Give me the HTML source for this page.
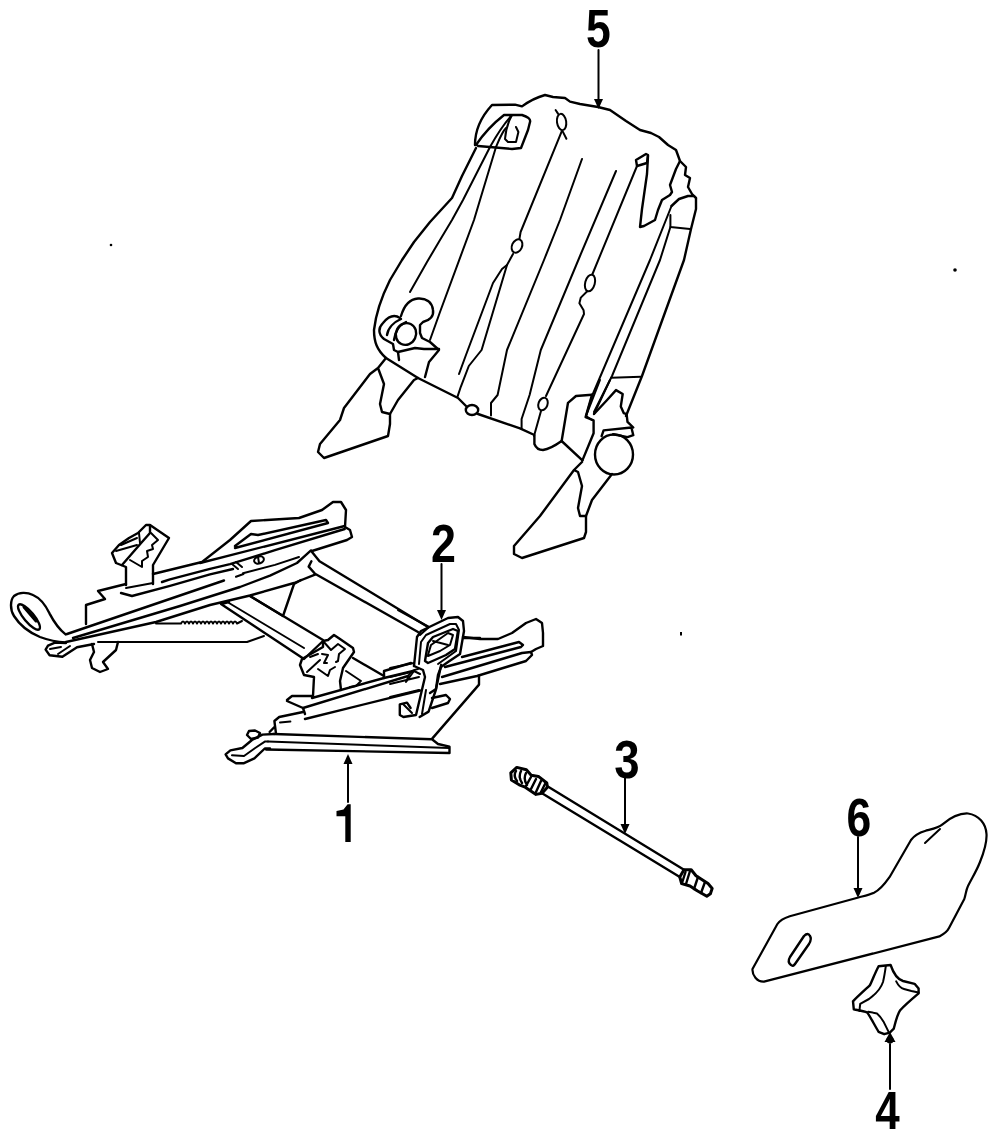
<!DOCTYPE html>
<html><head><meta charset="utf-8">
<style>
html,body{margin:0;padding:0;background:#fff;width:1000px;height:1148px;overflow:hidden}
svg{display:block}
.l{fill:none;stroke:#000;stroke-width:2.4;stroke-linejoin:round;stroke-linecap:round}
.t{fill:none;stroke:#000;stroke-width:2;stroke-linejoin:round;stroke-linecap:round}
.n{font-family:"Liberation Sans",sans-serif;font-weight:bold;fill:#000;will-change:transform}
</style></head><body>
<svg width="1000" height="1148" viewBox="0 0 1000 1148">
<!-- ===== PART 5 : SEAT BACK ===== -->
<g id="back">
<!-- outer outline -->
<path class="l" d="M475,145 C475,131 480,118 492,105 L515,104.6 L522,106.4 C528,102 534,98 545,95 L553,97 L565,98 L570,101.6 L580,104 L598,107 L610,110 L626,121 L640,130 L651,133 L659,137 L668,145 L676,150 L680,161 L686,167 L685,175 L690,178 L688,187 L692,194 L696,198 L696,209 L691,229 L684,260 L642,376 L626,416"/>
<path class="l" d="M476,148 L462,176 L452,198 L430,222 L414,242 L402,260 L390,280 C383,294 376,312 374,330 C374,342 377,350 386,358 L418,378 L458,398 L466,406"/>
<ellipse class="l" cx="472" cy="410" rx="6.2" ry="5"/>
<path class="l" d="M478,414 L520,428.4 L534.4,435 L534.4,444 C536,448 539,450 543,450 C550,449 556,445 561.6,441 L582.4,460.4"/>
<!-- headrest loop -->
<path class="l" d="M476,145 C482,136 490,126 504,115 L522,115 C528,117 531,119 530,122 L528,130 L521,148 L512,149 L478,146"/>
<path class="t" d="M512,115 C508,122 506,128 505,139 L508,142 L516,142 L518.4,132 L516,127"/>
<path class="t" d="M490,147 C495,138 502,126 512,115 M496,147 C499,140 502,132 506,128"/>
<!-- strip lines -->
<path class="t" d="M490,147 L463,200 L452,220 L440,240 L427,262 L410,292"/>
<path class="t" d="M496,147 L480,200 L474,220 L440,312 L430,340"/>
<path class="t" d="M561.6,131.6 L520.6,232 L519.5,238.5"/>
<ellipse class="t" cx="517" cy="246" rx="5" ry="7" transform="rotate(25 517 246)"/>
<path class="t" d="M513,254 L507,265 L481.6,350 L468.8,366 L460.8,386.8 L457.6,396.4"/>
<path class="t" d="M507,265 L502,269 L493,283 L465.6,356 L459,374"/>
<path class="t" d="M582,159 L560,220 L544,260 L507,350 L497.6,395 L491,403 L491,415.6"/>
<path class="t" d="M616,171 L580,256 L540.8,350 L529.6,395 L521.6,419 L521.6,428.4"/>
<path class="t" d="M637,166 L592.5,274"/>
<ellipse class="t" cx="590" cy="283" rx="4.8" ry="8.5" transform="rotate(15 590 283)"/>
<path class="t" d="M587,291.5 L580.8,297.6 L579.4,303.2 L583.6,310.3 L584,314 L546,396"/>
<ellipse class="t" cx="543" cy="404" rx="4.5" ry="6.5" transform="rotate(20 543 404)"/>
<path class="t" d="M541,411 L534,436"/>
<!-- top oval -->
<ellipse class="t" cx="561.6" cy="122" rx="4.6" ry="8.2" transform="rotate(-8 561.6 122)"/>
<path class="t" d="M555.6,110 L558,113.6 M562.8,131.6 L566.4,138.8"/>

<!-- right notch -->
<path class="l" d="M636,160 L646,154 L648,155 L647,163 L637,166 Z"/>
<path class="l" d="M648,156 L647,174 L645,188 L642,209 L640,227 L644,226 L655,220 L658,210 L662,200 L670,195 L672,192 L670,185 L676,169 L680,161"/>
<!-- right side piece -->
<path class="l" d="M671.5,206 L679,199 L688,196 L694,196 L696,198"/>
<path class="t" d="M670.4,215 L670.4,227 L690,229"/>
<path class="t" d="M671.5,206 L650,260 L592,396 L586,416 L592,420"/>
<path class="t" d="M670.4,227 L660,260 L612,376 L594,412"/>
<path class="t" d="M611.2,377.7 L641,376.7"/>
<!-- cylinder blob left -->
<path class="l" d="M401,316 C404,306 410,299 418,298.5 C426,298 432,302 433,310 C434,316 430,320 423,322 L420,325 L420,333 L422,338 L430,342 L439,350 L429,362 L425,377"/>
<path class="l" d="M400,318 C394,314 388,317 383,323 C378,328 378,334 384,339 L393,344 L394,350 L398,352 L415,348 L424,349 L439,349"/>
<path class="l" d="M387,335 C388,328 394,322 401,319"/>
<path class="l" d="M394,340 C395,332 399,325 406,322"/>
<ellipse class="l" cx="406" cy="334" rx="10" ry="11" transform="rotate(25 406 334)"/>
<path class="l" d="M398,352 L399,360"/>
<!-- left leg -->
<path class="l" d="M386,358 L378,368 L370,374 L344,408 L340,420 L320,444 L318,452 L324,458 L388,436 L390,424 L390,414 L382,412 L380,404 L384,384 L378,368"/>
<path class="l" d="M390,414 L398,400 L414,380 L418,378"/>
<!-- lower centre bits -->
<path class="l" d="M592,394.8 L576,396 L568,402.8 L561.6,441.2"/>
<path class="l" d="M592,394.8 L585.6,417.2 L593.6,420.4 L593.6,433.2 L582.4,460.4"/>
<path class="t" d="M600,380 L586,416 M610,380 L594,414"/>
<path class="l" d="M594,414 L606.4,400.7 L616,390.1 L622.7,394 L620.8,406.4 L623.7,413.1 L626.6,414.1 L627.5,421.8 L633.3,427.5"/>
<path class="l" d="M601.6,436.2 L603.6,430.4 L631.4,427.5 L633.3,435.2 L627.5,437.1 L613.1,434.2"/>
<ellipse class="l" cx="614" cy="454.5" rx="19" ry="20"/>
<!-- right leg -->
<path class="l" d="M582,462 L574,470 L540,516 L514,546 L514,554 L522,558 L584,538 L586,532 L586,516 L580,516 L578,508 L582,486 L578,472 L574,470"/>
<path class="l" d="M586,516 L592,500 L612,474"/>
</g>

<!-- labels -->
<g>
<text class="n" x="598.5" y="47" font-size="53" text-anchor="middle" transform="translate(598.5 0) scale(0.84 1) translate(-598.5 0)">5</text>
<path class="t" d="M598.5,50 L598.5,102"/>
<path d="M594,99 L603,99 L598.5,109 Z" fill="#000"/>
</g>

<!-- ===== REAR TRACK ===== -->
<g id="reartrack">
<!-- loop -->
<path class="l" d="M65.6,634.4 C60,630 54,622 49.6,613.6 C46,606 40,598 33,595 C27,592 19,592 14,596 C10,600 10,610 14,616 C19,624 28,632 40,637 C48,640 56,642 65.6,642.4"/>
<ellipse class="l" cx="29" cy="617" rx="16" ry="5" transform="rotate(50 29 617)"/><path class="l" d="M24,607 L36,621" style="stroke-width:3"/>
<!-- rail long lines -->
<path class="l" d="M67,634 L224,580.5"/>
<path class="l" d="M73,638 L180,606 L240,587 L270,575.6 L297,563 L311,550.4"/>
<path class="l" d="M66,642 L156,622 L210,605 L250,595.5 L294,583 L315,574.7"/>
<!-- lower foot loop -->
<path class="l" d="M66,643 L55,642.6 L48,645.6 L45.6,649.6 L49.6,655.2 L62.4,656.8 L77,647.2 L94,644"/>
<path class="t" d="M50,649 L61,647 M58,654 L70,646"/>
<path class="l" d="M92,644 L94,652 L90,660 L92,668 L100,672 L108,669 L103,662 L116,650 L118,642"/>
<!-- bottom dotted and serrated -->
<path class="t" d="M98,642 L247,642 L264,636"/>
<path class="t" d="M156,623.5 L181,623.5 Q183.0,619.5 185.0,623.5 Q187.0,619.5 189.0,623.5 Q191.0,619.5 193.0,623.5 Q195.0,619.5 197.0,623.5 Q199.0,619.5 201.0,623.5 Q203.0,619.5 205.0,623.5 Q207.0,619.5 209.0,623.5 Q211.0,619.5 213.0,623.5 Q215.0,619.5 217.0,623.5 Q219.0,619.5 221.0,623.5 Q223.0,619.5 225.0,623.5 Q227.0,619.5 229.0,623.5 Q231.0,619.5 233.0,623.5 Q235.0,619.5 237.0,623.5 L242,621"/>
<!-- upper rail plate -->
<path class="l" d="M86,624 L86,605 L105,599 L98,591 L126,584"/>
<path class="t" d="M126,588 L153,583"/>
<path class="l" d="M153,574 L202,562 L230,540 L251,521 L267,520 L299,518 L322,510 L333,502 L341,502 L346,510 L345,527 L350,530 L352,537 L347,540 L312,551"/>
<path class="l" d="M235,546 L251,534 L258,535 L326,520 L328,523 L235,548"/>
<path class="l" d="M200,563 L344.7,526"/>
<path class="l" d="M162,582 L170,579.3 L210,568.8 L230,564.2 L275,550.2 L344.7,529"/>
<path class="l" d="M121,593 L132,596 L170,585.9 L210,574.4 L233,569"/>
<path class="t" d="M236,576.8 L243.5,574 M243,573.3 L275,564.9 L299,557"/>

<path class="t" d="M232,564 L238,569 M236,562 L242,567"/>
<ellipse class="t" cx="259" cy="560" rx="5" ry="3.5" transform="rotate(-20 259 560)"/><path class="t" d="M258,557 L259,563"/>
<!-- bracket -->
<path class="l" d="M126,585 L126,567 L116,563 L112,553 L119,545 L129,538 L138,533 L146,525 L150,525 L169,538 L153,565 L153,584"/>
<path class="l" d="M150,526 L150,533 L142,542 L122,565"/>
<path class="t" d="M151,533 L158,540 L152,545 L153,549 L147,551 L148,557 L142,561 L142,567 L130,560"/>
<path class="t" d="M139,533 L140,543 M121,545 L137,538 M116,551 L137,545"/>
<!-- triangle brace -->
<path class="l" d="M250,596 L283,616 L294,584 L301,580"/>
<!-- rod 1 -->
<path class="l" d="M311.4,551.3 L319.5,561.2 L428,627"/>
<path class="l" d="M311.4,561.2 L308.7,566.6 L315,573.8 L418,632"/>
<!-- rod 2 -->
<path class="l" d="M250,596 L323,640"/>
<path class="t" d="M229,603 L304,648"/>
<path class="l" d="M229,602 L221,604 L304,659 L323,641"/>
<path class="l" d="M353,658 L384,676"/>
<path class="t" d="M346,671 L361,681"/>
</g>

<!-- ===== FRONT TRACK ===== -->
<g id="fronttrack">
<!-- bracket 2 -->
<path class="l" d="M313,696 L314,677 L304,675 L300,665 L302,659 L323,647 L323,641 L328,640 L334,635 L340,639 L353,648 L354,652 L343,668 L340,681 L341,690"/>
<path class="t" d="M323,641 L331,650 L338,644 L345,649 L339,654 L338,661 L336,662"/>
<path class="t" d="M310,657 L318,654 M322,654 L328,655 L324,663 L327,663 M307,672 L320,660 M318,669 L328,676 L330,670 L335,667"/>
<!-- rail -->
<path class="l" d="M287,700 L292,696 L312,696 M287,701 L303,708 L305,714"/>
<path class="l" d="M312,698 L384,678 L413,671"/>
<path class="l" d="M303,708 L408,676"/>
<path class="l" d="M305,719 L420,690.5"/>
<path class="l" d="M384,671 L411,663 M384,671 L384,678"/>
<path class="t" d="M350,687 L356,686 L360,682"/>
<path class="l" d="M276,733.6 L274.4,721 L279.2,717 L303,712 M274.4,727 L269.6,732"/>
<path class="t" d="M280,722.4 L290.4,721.6"/>
<!-- top plate right -->
<path class="l" d="M463,637 L480,639 L498,639 L512,633 L526,623 L536,619 L542,623 L543,633 L543,646 L536,649 L531,652 L532,655 L526,661 L477,676 L440,684"/>
<path class="l" d="M462,657 L519,642 L523,645 L521,647 L445,667"/>
<path class="l" d="M442,677 L522,653 L531,652"/>
<path class="l" d="M479,675.6 L479,684.6 L432.2,738.6"/>
<!-- handle -->
<path class="l" d="M414,666 L417,637 L421,631 L448,618 L458,617 L463,621 L464,631 L460,654 L448,662 L441,667 L438,675 L436,689 L430,693"/>
<path class="t" d="M419,664 L421,642 L426,635 L450,624 L456,624 L459,630 L456,651 L445,659 L438,664"/>
<path class="l" d="M425,661 L428,643 L433,637 L453,629 L458,631 L455,649 L446,655 L428,663 Z"/>
<path class="t" d="M428,655 L431,645 L448,633 L453,635 L450,645 L440,651 L428,656 M433,641 L448,645"/>
<path class="l" d="M414,666 L423,670 L425,677 L416,715 L403.4,717 L399.8,715 L399.8,704.4 L407,702.6 L410.6,708"/>
<path class="l" d="M441.2,664.8 L435.8,690 L428.6,711.6 L419.6,717"/>
<path class="t" d="M426,690 L422,714 M407,680 Q409,670 418,669 M403,704 L412,713"/>
<path class="l" d="M432,698 L446,695 L450,699 L448,703 L432,708"/>
<path class="t" d="M406,682 L414,671 L420,674 M390,668 L414,663 M390,677 L411,672 M390,684 L419,677 M390,697 L419,690"/>
<path class="l" d="M463,638 L480,638"/>
<path class="t" d="M398,610 L429,627 L420,635"/>
<!-- bar 1 -->
<path class="l" d="M274,734 L432,739.3 L438,744 L449.5,746.7 L449.5,753 L266,749.5"/>
<path class="t" d="M268,741.5 L449,748"/>
<path class="l" d="M274,734 L262.4,734.6 L252,740 L242.4,748 L230.4,750.4 L225.6,754.4 L228,758.4 L236,763.2 L244,763.2 L254.4,758.4 L264.8,748.5 L270,748.5"/>
<path class="t" d="M268,741.6 L264.8,741.6 L255.2,748 L244,756 L232,755.2"/>
<path class="l" d="M247,735 L249,731 L255,730.5 L260,733 L258,737.5 L251,739 Z"/>
</g>

<!-- ===== PART 3 ROD ===== -->
<g id="rod">
<path class="l" d="M547,786 L684,869.8"/>
<path class="l" d="M542,793.2 L679.8,877"/>
<path class="l" d="M510.8,772.8 L516.8,767.4 L526.4,769.8 L531.2,775.2 L538.4,776.4 L546.8,783 L547.4,787.2 L542,793.2 L536,794.4 L525.2,787.2 L519.2,784.8 L511.4,780 Z" style="stroke-width:3"/>
<path class="l" d="M516,771 Q513,776 517,781 M521,771 Q518,777 522,783 M526,773 Q523,779 527,785 M531,777 L526,786 M536,779 L531,789 M541,781 L536,792 M545,784 L541,792"/>
<path class="l" d="M679.8,877 L684,869.8 L691.2,869.8 L696,875.8 L708,883.6 L712.2,888.4 L710.4,893.8 L706.8,896.2 L697.2,890.8 L690,886 L681.6,883.6 Z" style="stroke-width:3"/>
<path class="l" d="M685.5,872 L682,883 M690,871 L686,884 M698,877 L694,889 M705,882 L701,893"/>
</g>

<!-- ===== PART 6 ===== -->
<g id="p6">
<path class="l" style="stroke-width:2.2" d="M752.5,969 C752,975 757,982 764,981.6 L939.4,936.4 C944,934 947,932 949,928 L964.3,899 C966,894 966,890 968,886 C972,878 977,870 980,862 C984,852 987,842 986.5,834 C986,824 979,815 968,813.5 C958,813 950,818 942.5,824.3 C938,828 932,829 925,831 C918,833 914,836 911,840 L889.5,877.2 C884,885 880,890 874,892.8 C869,895 864,896 858.4,897.5 L789.8,916.2 C784,918 780,920 777.4,924 Z"/>
<path class="t" d="M925,843 L940,829"/>
<path class="l" d="M791,965 Q787,962 790,957 L804,936 Q808,932 810,936 Q812,939 809,944 L795,964 Q793,967 791,965 Z"/>
</g>
<!-- ===== PART 4 ===== -->
<g id="p4">
<path class="l" d="M878.6,966.2 L890.6,965 C893,972 896,979 903,981 L914.6,983.8 L918.6,988.6 L918.6,993.4 C912,999 904,1006 900.2,1010.2 C897,1015 895,1024 893.8,1028.6 L889.8,1032.6 L884.2,1034.2 L878.6,1031.8 C875,1026 871,1018 867.4,1012.6 C864,1011 857,1010 853.8,1009.4 L853,1001.4 C857,997 866,989 869.8,985.4 C872,981 875,973 878.6,966.2 Z"/>
<path class="t" d="M885.8,966.2 C885,972 884,978 883,982 C881,988 876,994 869,999 L860.2,1003.8 L859.4,1011 M896.2,981.4 C898,985 900,988 904,989 L911.4,991 L918.6,992.6 M868.2,1011.8 L877,1013.4 C880,1016 882,1019 883.4,1021.4 L889,1032.6"/>
</g>

<!-- labels -->
<g>
<text class="n" x="443.5" y="562" font-size="54" text-anchor="middle" transform="translate(443.5 0) scale(0.83 1) translate(-443.5 0)">2</text>
<path class="t" d="M441.5,564 L441.5,612"/>
<path d="M437,610 L446,610 L441.5,620 Z" fill="#000"/>
<path d="M345.3,842 L350.7,842 L350.7,804.3 L347.6,804.3 L343.5,809.6 L336.5,811 L336.5,816.2 L345.3,816.2 Z" fill="#000"/>
<path class="t" d="M348,762 L348,802"/>
<path d="M343.5,764 L352.5,764 L348,754 Z" fill="#000"/>
<text class="n" x="627" y="778" font-size="53" text-anchor="middle" transform="translate(627 0) scale(0.86 1) translate(-627 0)">3</text>
<path class="t" d="M625,778 L625,826"/>
<path d="M620.5,824 L629.5,824 L625,834 Z" fill="#000"/>
<text class="n" x="859" y="836.5" font-size="53" text-anchor="middle" transform="translate(859 0) scale(0.84 1) translate(-859 0)">6</text>
<path class="t" d="M858,837 L858,890"/>
<path d="M853.5,888 L862.5,888 L858,898 Z" fill="#000"/>
<text class="n" x="887.5" y="1129" font-size="53" text-anchor="middle" transform="translate(887.5 0) scale(0.83 1) translate(-887.5 0)">4</text>
<path class="t" d="M890,1044 L890,1089"/>
<path d="M884.5,1042 L895.5,1042 L890,1032 Z" fill="#000"/><circle cx="890" cy="1040" r="3.5" fill="#000"/>
</g>
<!-- stray dots -->
<circle cx="111" cy="245" r="1.3" fill="#000"/>
<circle cx="955" cy="270" r="1.8" fill="#000"/>
<rect x="680" y="632" width="2" height="3.5" fill="#000"/>
</svg>
</body></html>
